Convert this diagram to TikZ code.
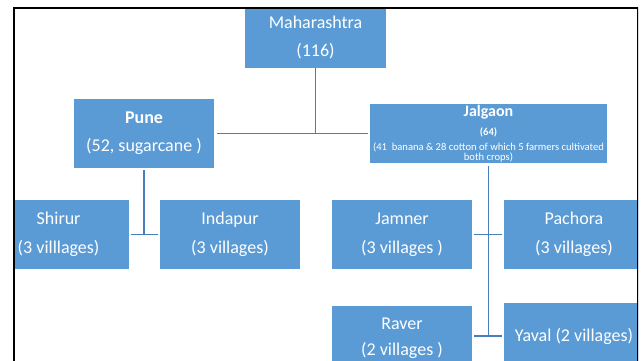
\documentclass[tikz,border=0pt]{standalone}
\usepackage{fontspec}
\setmainfont{Carlito}
\definecolor{boxblue}{HTML}{5B9BD5}
\definecolor{linkblue}{HTML}{4A7EBB}

\begin{document}
\begin{tikzpicture}[x=1pt,y=-1pt,
    box/.style={fill=boxblue,text=white,inner sep=1pt,align=center,
      minimum width=140pt,minimum height=69pt,
      font=\fontsize{18}{22}\selectfont},
    link/.style={draw=linkblue,line width=1.6pt}]
  \useasboundingbox (0,0) rectangle (642,360);
  \clip (13,7) rectangle (638,370);

  % state and districts
  \node[box,minimum width=141pt,minimum height=61pt] (maha) at (315.5,37.5)
        {Maharashtra\\[6pt](116)};
  \node[box] (pune) at (144,133.5)
        {\textbf{Pune}\\[6pt](52, sugarcane )};
  \node[box,minimum width=237pt,minimum height=59pt,
        font=\fontsize{10.6}{11}\selectfont] (jalgaon) at (488.5,133.5)
        {{\fontsize{16}{18}\selectfont\bfseries Jalgaon}\\[8pt]
         {\fontsize{10.5}{12}\selectfont\bfseries (64)}\\[4.5pt]
         (41~~banana \& 28 cotton of which 5 farmers cultivated\\[-1pt]
         both crops)};

  % talukas
  \node[box] (shirur)  at (58.6,234.5) {Shirur\\[7pt](3 villlages)};
  \node[box] (indapur) at (230,234.5)  {Indapur\\[7pt](3 villages)};
  \node[box] (jamner)  at (402,234.5)  {Jamner\\[7pt](3 villages )};
  \node[box] (pachora) at (574,234.5)  {Pachora\\[7pt](3 villages)};
  \node[box,minimum height=64pt] (raver) at (402,338)
        {Raver\\[4pt](2 villages )};
  \node[box,minimum height=66pt] (yaval) at (574,336)
        {Yaval (2 villages)};

  % connectors
  \draw[link] (maha.south) -- (maha.south |- pune.east);
  \draw[link] ([xshift=3pt]pune.east) -- ([xshift=-2pt]jalgaon.west);
  \draw[link] ([yshift=-2pt]pune.south) -- (pune.south |- shirur.east);
  \draw[link] ([xshift=2pt]shirur.east) -- ([xshift=-2pt]indapur.west);
  \draw[link] ([yshift=-3pt]jalgaon.south) -- (jalgaon.south |- yaval.west);
  \draw[link] ([xshift=2pt]jamner.east) -- ([xshift=-2pt]pachora.west);
  \draw[link] ([xshift=2pt]raver.east |- yaval.west) -- ([xshift=-2pt]yaval.west);

  % slide frame
  \draw[line width=3pt] (13,370) -- (13,7) -- (638,7) -- (638,370);
\end{tikzpicture}
\end{document}
